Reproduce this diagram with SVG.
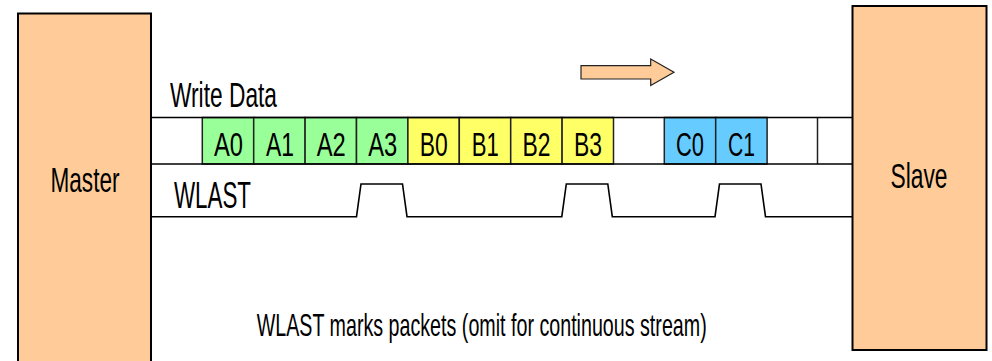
<svg xmlns="http://www.w3.org/2000/svg" width="992" height="361" viewBox="0 0 992 361">
<style>
.box{fill:#FFCC99;stroke:#000;stroke-width:2}
.t{font-family:"Liberation Sans",Arial,sans-serif;fill:#000}
.lbl{font-size:35px}
.cell{stroke:#222;stroke-width:1.5}
.ct{font-size:33px;text-anchor:middle}
.ln{fill:none;stroke:#000;stroke-width:1.6}
.g{fill:#99FF99}.y{fill:#FFFF66}.b{fill:#66CCFF}.w{fill:#FFFFFF}
</style>
<rect width="992" height="361" fill="#fff"/>
<g id="master">
<rect class="box" x="18" y="13.5" width="133" height="360"/>
<text class="t lbl" x="85" y="191.5" text-anchor="middle" textLength="69" lengthAdjust="spacingAndGlyphs">Master</text>
</g>
<g id="slave">
<rect class="box" x="852.5" y="6" width="134" height="344"/>
<text class="t lbl" x="919" y="188" text-anchor="middle" textLength="57" lengthAdjust="spacingAndGlyphs">Slave</text>
</g>
<g id="arrow">
<path d="M581,65.7 H650.7 V59 L674,72.3 L650.7,85.5 V79 H581 Z" fill="#FFCC99" stroke="#222" stroke-width="1.2"/>
</g>
<g id="write-data">
<text class="t lbl" x="170" y="107.3" textLength="107" lengthAdjust="spacingAndGlyphs">Write Data</text>
<rect class="g cell" x="202.3" y="117.5" width="51.4" height="46.5"/>
<rect class="g cell" x="253.7" y="117.5" width="51.4" height="46.5"/>
<rect class="g cell" x="305.1" y="117.5" width="51.4" height="46.5"/>
<rect class="g cell" x="356.5" y="117.5" width="51.4" height="46.5"/>
<rect class="y cell" x="407.9" y="117.5" width="51.4" height="46.5"/>
<rect class="y cell" x="459.3" y="117.5" width="51.4" height="46.5"/>
<rect class="y cell" x="510.7" y="117.5" width="51.4" height="46.5"/>
<rect class="y cell" x="562.1" y="117.5" width="51.4" height="46.5"/>
<rect class="b cell" x="664.3" y="117.5" width="51.4" height="46.5"/>
<rect class="b cell" x="715.7" y="117.5" width="51.4" height="46.5"/>
<line class="cell" x1="817.5" y1="117.5" x2="817.5" y2="164"/>
<line class="ln" x1="151" y1="117.5" x2="852" y2="117.5"/>
<line class="ln" x1="151" y1="164" x2="852" y2="164"/>
<g class="t ct">
<text x="228.5" y="155.5" textLength="29" lengthAdjust="spacingAndGlyphs">A0</text>
<text x="279.9" y="155.5" textLength="28" lengthAdjust="spacingAndGlyphs">A1</text>
<text x="331.3" y="155.5" textLength="29" lengthAdjust="spacingAndGlyphs">A2</text>
<text x="382.7" y="155.5" textLength="29" lengthAdjust="spacingAndGlyphs">A3</text>
<text x="433.8" y="155.5" textLength="28" lengthAdjust="spacingAndGlyphs">B0</text>
<text x="485.2" y="155.5" textLength="27" lengthAdjust="spacingAndGlyphs">B1</text>
<text x="536.6" y="155.5" textLength="28" lengthAdjust="spacingAndGlyphs">B2</text>
<text x="588" y="155.5" textLength="28" lengthAdjust="spacingAndGlyphs">B3</text>
<text x="690" y="155.5" textLength="28" lengthAdjust="spacingAndGlyphs">C0</text>
<text x="741.4" y="155.5" textLength="27" lengthAdjust="spacingAndGlyphs">C1</text>
</g>
</g>
<g id="wlast">
<text class="t" font-size="37" x="174" y="208.3" textLength="77" lengthAdjust="spacingAndGlyphs">WLAST</text>
<path class="ln" d="M151,216.7 H356.5 L361,184 H402.5 L407,216.7 H561.8 L566.3,184 H607.8 L612.3,216.7 H715 L719.5,184 H761 L765.5,216.7 H852"/>
</g>
<text class="t" x="481.7" y="336" font-size="32" text-anchor="middle" textLength="450" lengthAdjust="spacingAndGlyphs">WLAST marks packets (omit for continuous stream)</text>
</svg>
